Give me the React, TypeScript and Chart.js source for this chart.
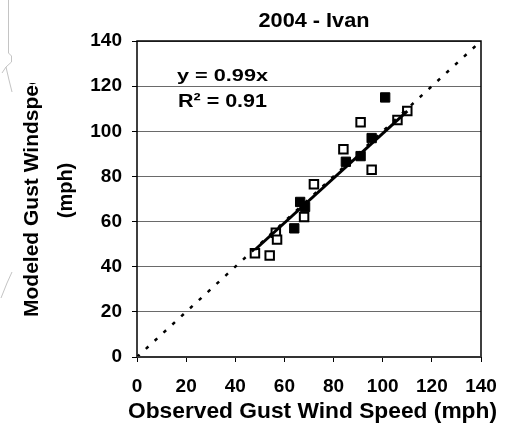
import { useEffect, useRef } from "react";
import { Chart, registerables } from "chart.js";

Chart.register(...registerables);

// Storm sites: observed vs. modeled peak gusts (mph)
const openObserved = [48, 54, 56.5, 57, 68, 72, 84, 91, 95.5, 106, 110];
const openModeled = [46, 45, 55, 52, 62, 76.5, 92, 104, 83, 105, 109];
const filledObserved = [64, 66.4, 68.4, 85, 91, 95.5, 101];
const filledModeled = [57, 68.7, 66.5, 86.5, 89, 97, 115];

// Regression through the origin, y = 0.99x, over the observed range
const trendSlope = 0.99;
const trendRange = [48, 110];
// Perfect-agreement reference line
const identityRange = [0, 140];

const axisMin = 0;
const axisMax = 140;
const axisStep = 20;

const titleText = "2004 - Ivan";
const equationText = "y = 0.99x";
const rSquaredText = "R\u00B2 = 0.91";
const xTitle = "Observed Gust Wind Speed (mph)";
const yTitleLines = ["Modeled Gust Windspeed", "(mph)"];

const FONT = '"Liberation Sans", Arial, sans-serif';

function fitText(
  ctx: CanvasRenderingContext2D,
  text: string,
  x: number,
  y: number,
  px: number,
  width: number,
  align: CanvasTextAlign
) {
  ctx.save();
  ctx.font = `bold ${px}px ${FONT}`;
  ctx.fillStyle = "#000";
  ctx.textBaseline = "alphabetic";
  ctx.textAlign = align;
  const w = ctx.measureText(text).width;
  ctx.translate(x, y);
  ctx.scale(width / w, 1);
  ctx.fillText(text, 0, 0);
  ctx.restore();
}

const decorPlugin = {
  id: "decor",
  beforeDraw(chart: Chart) {
    const ctx = chart.ctx;
    ctx.save();
    ctx.fillStyle = "#fff";
    ctx.fillRect(0, 0, chart.width, chart.height);
    // faint outline strokes along the left edge
    ctx.strokeStyle = "#c4c4c4";
    ctx.lineWidth = 1;
    ctx.beginPath();
    ctx.moveTo(8.5, 0);
    ctx.lineTo(8.5, 53);
    ctx.lineTo(11.5, 56);
    ctx.lineTo(11.5, 62);
    ctx.lineTo(6, 67);
    ctx.lineTo(2, 73);
    ctx.moveTo(6, 67);
    ctx.lineTo(9, 80);
    ctx.lineTo(12, 92);
    ctx.moveTo(1, 298);
    ctx.lineTo(7, 283);
    ctx.lineTo(12, 272);
    ctx.stroke();
    ctx.restore();
  },
  afterDraw(chart: Chart) {
    const ctx = chart.ctx;
    const { left, right, top, bottom } = chart.chartArea;
    ctx.save();
    ctx.strokeStyle = "#000";
    ctx.lineWidth = 1.5;
    ctx.beginPath();
    ctx.moveTo(left, bottom);
    ctx.lineTo(left, top);
    ctx.lineTo(right, top);
    ctx.lineTo(right, bottom);
    ctx.stroke();
    ctx.strokeStyle = "#333";
    ctx.lineWidth = 2;
    ctx.beginPath();
    ctx.moveTo(left, bottom);
    ctx.lineTo(right, bottom);
    ctx.stroke();
    ctx.restore();

    fitText(ctx, titleText, 314, 27, 19.5, 111, "center");
    fitText(ctx, equationText, 177, 81, 17, 91, "left");
    fitText(ctx, rSquaredText, 178, 107, 18.5, 89, "left");
    fitText(ctx, xTitle, 128, 418, 21.5, 369, "left");

    // rotated y-axis title; the first line is cut off by its text box
    ctx.save();
    ctx.beginPath();
    ctx.rect(0, 83, 60, chart.height - 83);
    ctx.clip();
    ctx.translate(38, 317);
    ctx.rotate(-Math.PI / 2);
    ctx.font = `bold 21px ${FONT}`;
    ctx.fillStyle = "#000";
    ctx.textAlign = "left";
    ctx.fillText(yTitleLines[0], 0, 0);
    ctx.restore();

    ctx.save();
    ctx.translate(72, 190.5);
    ctx.rotate(-Math.PI / 2);
    ctx.font = `bold 20px ${FONT}`;
    ctx.fillStyle = "#000";
    ctx.textAlign = "center";
    ctx.fillText(yTitleLines[1], 0, 0);
    ctx.restore();
  },
};

export default function App() {
  const canvasRef = useRef<HTMLCanvasElement | null>(null);

  useEffect(() => {
    const canvas = canvasRef.current;
    if (!canvas) return;

    const openPoints = openObserved.map((x, i) => ({ x, y: openModeled[i] }));
    const filledPoints = filledObserved.map((x, i) => ({ x, y: filledModeled[i] }));
    const trendPoints = trendRange.map((x) => ({ x, y: trendSlope * x }));
    const identityPoints = identityRange.map((x) => ({ x, y: x }));

    const chart = new Chart(canvas, {
      type: "scatter",
      data: {
        datasets: [
          {
            label: "1:1",
            data: identityPoints,
            showLine: true,
            borderColor: "#000",
            borderWidth: 2.5,
            borderDash: [3.5, 8.5],
            pointRadius: 0,
            fill: false,
            order: 0,
          },
          {
            label: "Trend",
            data: trendPoints,
            showLine: true,
            borderColor: "#000",
            borderWidth: 3,
            pointRadius: 0,
            fill: false,
            order: 1,
          },
          {
            label: "Open",
            data: openPoints,
            pointStyle: "rect",
            pointRadius: 6,
            borderWidth: 2,
            borderColor: "#000",
            backgroundColor: "#fff",
            order: 3,
          },
          {
            label: "Filled",
            data: filledPoints,
            pointStyle: "rect",
            pointRadius: 6.6,
            borderWidth: 1,
            borderColor: "#000",
            backgroundColor: "#000",
            order: 2,
          },
        ],
      },
      options: {
        responsive: false,
        animation: false,
        events: [],
        layout: { padding: { top: 41, right: 35, bottom: 0, left: 0 } },
        plugins: {
          legend: { display: false },
          title: { display: false },
          tooltip: { enabled: false },
        },
        scales: {
          x: {
            type: "linear",
            min: axisMin,
            max: axisMax,
            afterFit: (scale: any) => {
              scale.height = 76;
            },
            ticks: {
              stepSize: axisStep,
              color: "#000",
              padding: 13,
              maxRotation: 0,
              font: { family: FONT, size: 19, weight: "bold" },
            },
            grid: {
              drawOnChartArea: false,
              drawTicks: true,
              tickLength: 5,
              tickColor: "#000",
              tickWidth: 1,
            },
            border: { display: false },
          },
          y: {
            type: "linear",
            min: axisMin,
            max: axisMax,
            afterFit: (scale: any) => {
              scale.width = 137;
            },
            ticks: {
              stepSize: axisStep,
              color: "#000",
              padding: 10,
              font: { family: FONT, size: 19, weight: "bold" },
            },
            grid: {
              color: "#6a6a6a",
              lineWidth: 1,
              drawTicks: true,
              tickLength: 5,
              tickColor: "#000",
              tickWidth: 1,
            },
            border: { display: false },
          },
        },
      },
      plugins: [decorPlugin],
    });

    return () => chart.destroy();
  }, []);

  return (
    <div style={{ position: "absolute", left: 0, top: 0, width: 516, height: 433 }}>
      <canvas ref={canvasRef} width={516} height={433} />
    </div>
  );
}
